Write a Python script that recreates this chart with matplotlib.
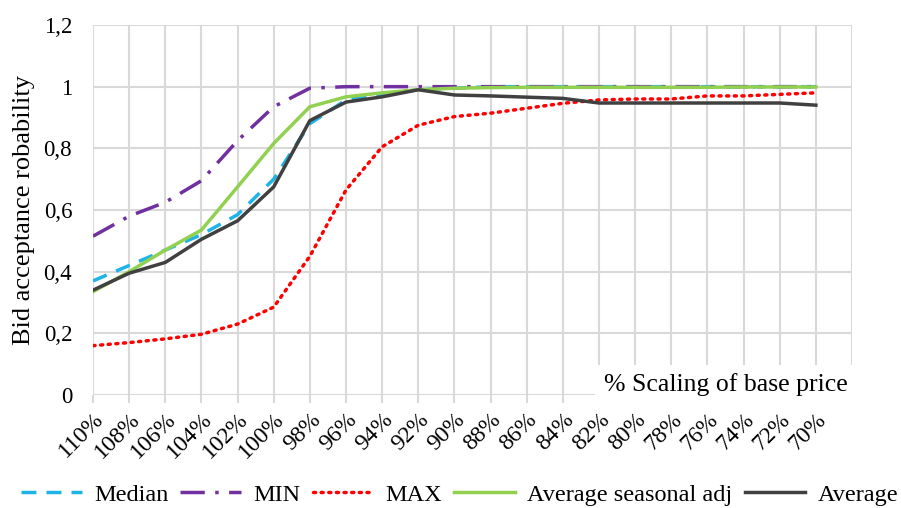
import matplotlib.pyplot as plt
from matplotlib.ticker import FuncFormatter

plt.rcParams['font.family'] = ['Liberation Serif', 'DejaVu Serif']

# Data
scaling = ['110%', '108%', '106%', '104%', '102%', '100%', '98%', '96%', '94%', '92%', '90%',
           '88%', '86%', '84%', '82%', '80%', '78%', '76%', '74%', '72%', '70%']
median = [0.37, 0.42, 0.47, 0.52, 0.585, 0.70, 0.88, 0.957, 0.975, 0.99, 0.995,
          1.0, 1.0, 1.0, 1.0, 1.0, 1.0, 1.0, 1.0, 1.0, 1.0]
min_vals = [0.515, 0.58, 0.625, 0.695, 0.825, 0.935, 0.995, 1.0, 1.0, 1.0, 1.0,
            1.0, 1.0, 1.0, 1.0, 1.0, 1.0, 1.0, 1.0, 1.0, 1.0]
max_vals = [0.16, 0.17, 0.182, 0.197, 0.23, 0.285, 0.45, 0.665, 0.805, 0.875, 0.903,
            0.914, 0.93, 0.946, 0.957, 0.96, 0.96, 0.97, 0.97, 0.975, 0.98]
avg_seasonal = [0.335, 0.40, 0.47, 0.535, 0.675, 0.816, 0.935, 0.967, 0.98, 0.99, 0.995,
                0.997, 0.998, 0.998, 0.998, 0.998, 0.998, 0.998, 0.999, 0.999, 0.999]
average = [0.34, 0.395, 0.43, 0.505, 0.565, 0.675, 0.89, 0.95, 0.967, 0.99, 0.973,
           0.97, 0.966, 0.962, 0.947, 0.947, 0.947, 0.947, 0.947, 0.947, 0.94]

fig = plt.figure(figsize=(9.01, 5.08), dpi=100)
ax = fig.add_axes([93/901, 1 - 395/508, (852 - 93)/901, (395 - 25)/508])

x = list(range(len(scaling)))
ax.plot(x, median, color='#1FB4E8', linewidth=2.5, dashes=(4.3, 2.9), label='Median', zorder=3)
ax.plot(x, min_vals, color='#7030A0', linewidth=2.5, dashes=(7, 3, 1, 3), label='MIN', zorder=3)
ax.plot(x, max_vals, color='#FF0000', linewidth=2.5, linestyle=(0, (0.6, 1.6)),
        dash_capstyle='round', label='MAX', zorder=3)
ax.plot(x, avg_seasonal, color='#92D050', linewidth=2.5, label='Average seasonal adj', zorder=3)
ax.plot(x, average, color='#404040', linewidth=2.5, label='Average', zorder=4)

ax.set_xlim(0, 21)
ax.set_ylim(0, 1.2)
# extra empty slot on the right like the original category axis
ax.set_xticks(range(len(scaling) + 1))
ax.set_xticklabels(scaling + [''], rotation=45, ha='right', rotation_mode='anchor', fontsize=17)
ax.set_yticks([0, 0.2, 0.4, 0.6, 0.8, 1.0, 1.2])
ax.yaxis.set_major_formatter(FuncFormatter(lambda v, p: ('%g' % round(v, 1)).replace('.', ',')))
ax.tick_params(axis='y', length=0, pad=15, labelsize=16.5)
ax.tick_params(axis='x', length=6, color='#D9D9D9', width=1.5, pad=4)
ax.grid(True, color='#D9D9D9', linewidth=1.5)
for s in ax.spines.values():
    s.set_visible(False)
ax.set_axisbelow(True)

ax.set_ylabel('Bid acceptance robability', fontsize=19, labelpad=6)

fig.text(848/901, 1 - 385/508, '% Scaling of base price', ha='right', va='center', fontsize=18.5,
         bbox=dict(facecolor='white', edgecolor='none', boxstyle='square,pad=0.35'))

fig.legend(loc='center', bbox_to_anchor=(0.51, 0.026), ncol=5, frameon=False, fontsize=17.5,
           handlelength=2.5, handletextpad=0.5, columnspacing=0.5, borderaxespad=0)

plt.savefig('out.png', dpi=100)
